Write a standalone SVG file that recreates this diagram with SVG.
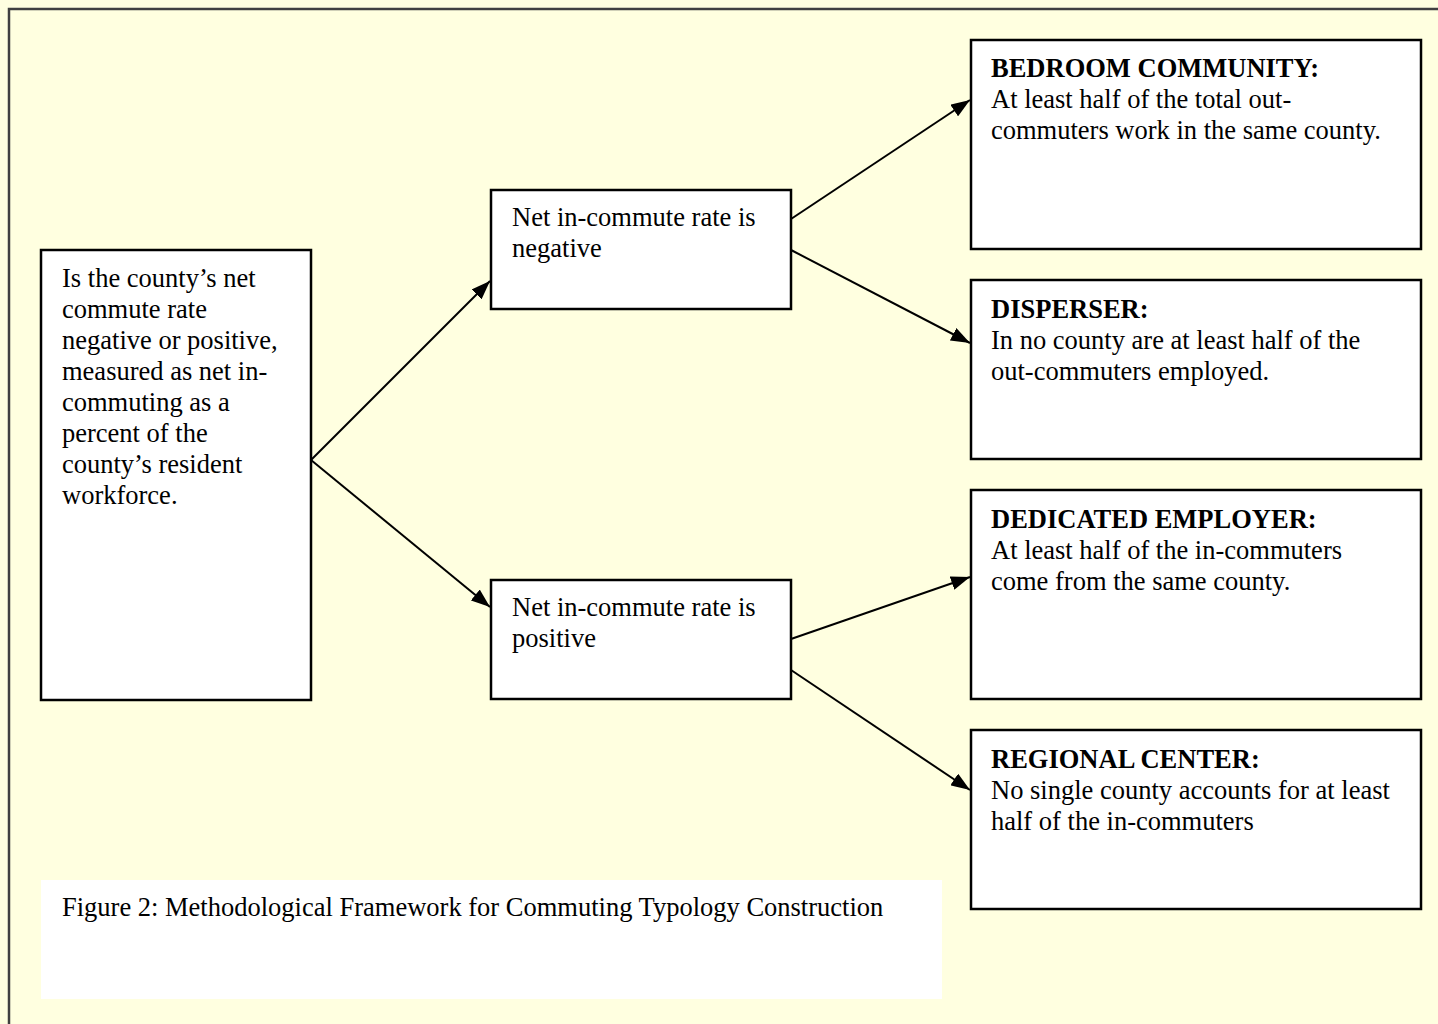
<svg xmlns="http://www.w3.org/2000/svg" width="1438" height="1024" viewBox="0 0 1438 1024">
<defs>
<style>
.bg{fill:#FFFFE0}
.frame{fill:none;stroke:#404040;stroke-width:2.5}
.box{fill:#FFFFFF;stroke:#000000;stroke-width:2.5}
.cap{fill:#FFFFFF;stroke:none}
.t{font-family:"Liberation Serif","Times New Roman",serif;font-size:26.5px;fill:#000000}
.b{font-weight:bold}
.conn{stroke:#000000;stroke-width:2;fill:none;marker-end:url(#arr)}
</style>
<marker id="arr" viewBox="0 0 19 14" refX="19" refY="7" markerWidth="19" markerHeight="14" markerUnits="userSpaceOnUse" orient="auto">
<path d="M0,0 L19,7 L0,14 z" fill="#000000"/>
</marker>
</defs>
<rect class="bg" x="0" y="0" width="1438" height="1024"/>
<rect class="frame" x="9" y="9" width="1500" height="1100"/>

<g id="caption">
<rect class="cap" x="41" y="880" width="901" height="119"/>
<text class="t" x="62" y="916">Figure 2: Methodological Framework for Commuting Typology Construction</text>
</g>

<g id="question">
<rect class="box" x="41" y="250" width="270" height="450"/>
<text class="t" x="62" y="287">Is the county’s net</text>
<text class="t" x="62" y="318">commute rate</text>
<text class="t" x="62" y="349">negative or positive,</text>
<text class="t" x="62" y="380">measured as net in-</text>
<text class="t" x="62" y="411">commuting as a</text>
<text class="t" x="62" y="442">percent of the</text>
<text class="t" x="62" y="473">county’s resident</text>
<text class="t" x="62" y="504">workforce.</text>
</g>

<g id="negative">
<rect class="box" x="491" y="190" width="300" height="119"/>
<text class="t" x="512" y="226">Net in-commute rate is</text>
<text class="t" x="512" y="257">negative</text>
</g>

<g id="positive">
<rect class="box" x="491" y="580" width="300" height="119"/>
<text class="t" x="512" y="616">Net in-commute rate is</text>
<text class="t" x="512" y="647">positive</text>
</g>

<g id="bedroom">
<rect class="box" x="971" y="40" width="450" height="209"/>
<text class="t b" x="991" y="77">BEDROOM COMMUNITY:</text>
<text class="t" x="991" y="108">At least half of the total out-</text>
<text class="t" x="991" y="139">commuters work in the same county.</text>
</g>

<g id="disperser">
<rect class="box" x="971" y="280" width="450" height="179"/>
<text class="t b" x="991" y="318">DISPERSER:</text>
<text class="t" x="991" y="349">In no county are at least half of the</text>
<text class="t" x="991" y="380">out-commuters employed.</text>
</g>

<g id="dedicated">
<rect class="box" x="971" y="490" width="450" height="209"/>
<text class="t b" x="991" y="528">DEDICATED EMPLOYER:</text>
<text class="t" x="991" y="559">At least half of the in-commuters</text>
<text class="t" x="991" y="590">come from the same county.</text>
</g>

<g id="regional">
<rect class="box" x="971" y="730" width="450" height="179"/>
<text class="t b" x="991" y="768">REGIONAL CENTER:</text>
<text class="t" x="991" y="799">No single county accounts for at least</text>
<text class="t" x="991" y="830">half of the in-commuters</text>
</g>

<g id="connectors">
<line class="conn" x1="311" y1="460" x2="490" y2="281"/>
<line class="conn" x1="311" y1="460" x2="490" y2="607"/>
<line class="conn" x1="791" y1="219" x2="970" y2="100"/>
<line class="conn" x1="791" y1="250" x2="970" y2="343"/>
<line class="conn" x1="791" y1="639" x2="970" y2="577"/>
<line class="conn" x1="791" y1="670" x2="970" y2="790"/>
</g>
</svg>
